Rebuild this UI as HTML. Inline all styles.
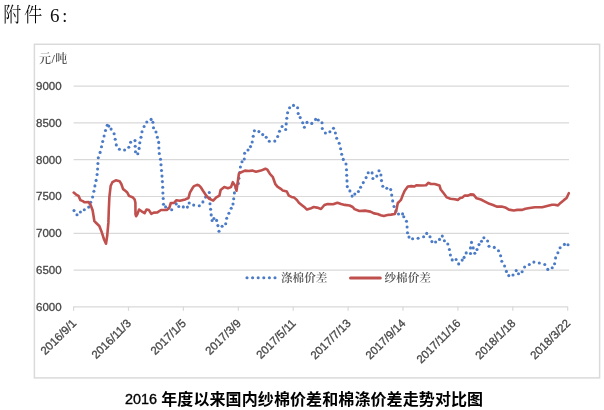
<!DOCTYPE html>
<html><head><meta charset="utf-8"><title>附件6</title>
<style>
html,body{margin:0;padding:0;background:#fff;}
body{width:604px;height:410px;overflow:hidden;position:relative;}
svg{position:absolute;left:0;top:0;will-change:transform;}
.lab{font-family:"Liberation Sans","Noto Sans CJK SC",sans-serif;font-size:11.5px;fill:#474747;stroke:#474747;stroke-width:0.3px;}
.cjk{font-family:"Liberation Serif","Noto Serif CJK SC",serif;font-size:11.6px;fill:#555;font-weight:600;}
</style></head>
<body>
<svg width="604" height="410" viewBox="0 0 604 410">
<g style="font-family:'Liberation Serif','Noto Serif CJK SC',serif;font-size:20px;font-weight:300;fill:#000">
<text transform="translate(3.2,21.8) scale(0.9,1.02)">附</text>
<text transform="translate(23.9,21.8) scale(0.92,1.02)">件</text>
<text x="50" y="21.5" style="font-size:19px;font-weight:400;fill:#111">6</text><text x="62.3" y="22.2" style="font-size:18px;font-weight:400;fill:#111">:</text>
</g>
<rect x="34.4" y="44.3" width="565.2" height="333.6" fill="#fff" stroke="#dadada" stroke-width="1.5"/>
<g stroke="#d9d9d9" stroke-width="1.2">
<line x1="73.6" y1="86.10" x2="569" y2="86.10"/>
<line x1="73.6" y1="122.90" x2="569" y2="122.90"/>
<line x1="73.6" y1="159.70" x2="569" y2="159.70"/>
<line x1="73.6" y1="196.50" x2="569" y2="196.50"/>
<line x1="73.6" y1="233.30" x2="569" y2="233.30"/>
<line x1="73.6" y1="270.10" x2="569" y2="270.10"/>

<line x1="73.6" y1="306.8" x2="567.8" y2="306.8"/>
<line x1="73.60" y1="306.6" x2="73.60" y2="310.8"/>
<line x1="128.50" y1="306.6" x2="128.50" y2="310.8"/>
<line x1="183.40" y1="306.6" x2="183.40" y2="310.8"/>
<line x1="238.30" y1="306.6" x2="238.30" y2="310.8"/>
<line x1="293.20" y1="306.6" x2="293.20" y2="310.8"/>
<line x1="348.10" y1="306.6" x2="348.10" y2="310.8"/>
<line x1="403.00" y1="306.6" x2="403.00" y2="310.8"/>
<line x1="457.90" y1="306.6" x2="457.90" y2="310.8"/>
<line x1="512.80" y1="306.6" x2="512.80" y2="310.8"/>
<line x1="567.70" y1="306.6" x2="567.70" y2="310.8"/>

</g>
<text class="cjk" x="39" y="63.2" style="font-size:12px;letter-spacing:0.4px">元/吨</text>
<g class="lab">
<text x="36" y="89.90">9000</text>
<text x="36" y="126.70">8500</text>
<text x="36" y="163.50">8000</text>
<text x="36" y="200.30">7500</text>
<text x="36" y="237.10">7000</text>
<text x="36" y="273.90">6500</text>
<text x="36" y="310.70">6000</text>

<text transform="translate(77.00,323.90) rotate(-45)" text-anchor="end">2016/9/1</text>
<text transform="translate(131.90,323.90) rotate(-45)" text-anchor="end">2016/11/3</text>
<text transform="translate(186.80,323.90) rotate(-45)" text-anchor="end">2017/1/5</text>
<text transform="translate(241.70,323.90) rotate(-45)" text-anchor="end">2017/3/9</text>
<text transform="translate(296.60,323.90) rotate(-45)" text-anchor="end">2017/5/11</text>
<text transform="translate(351.50,323.90) rotate(-45)" text-anchor="end">2017/7/13</text>
<text transform="translate(406.40,323.90) rotate(-45)" text-anchor="end">2017/9/14</text>
<text transform="translate(461.30,323.90) rotate(-45)" text-anchor="end">2017/11/16</text>
<text transform="translate(516.20,323.90) rotate(-45)" text-anchor="end">2018/1/18</text>
<text transform="translate(571.10,323.90) rotate(-45)" text-anchor="end">2018/3/22</text>

</g>
<g fill="#4b7bc7">
<circle cx="74.0" cy="210.6" r="1.55"/>
<circle cx="77.0" cy="214.8" r="1.55"/>
<circle cx="80.4" cy="212.0" r="1.55"/>
<circle cx="84.3" cy="209.8" r="1.55"/>
<circle cx="88.7" cy="207.1" r="1.55"/>
<circle cx="90.7" cy="202.2" r="1.55"/>
<circle cx="92.6" cy="197.0" r="1.55"/>
<circle cx="93.9" cy="191.3" r="1.55"/>
<circle cx="94.9" cy="185.9" r="1.55"/>
<circle cx="96.1" cy="180.4" r="1.55"/>
<circle cx="97.1" cy="174.5" r="1.55"/>
<circle cx="97.6" cy="169.0" r="1.55"/>
<circle cx="97.9" cy="163.5" r="1.55"/>
<circle cx="98.3" cy="157.8" r="1.55"/>
<circle cx="100.1" cy="152.4" r="1.55"/>
<circle cx="101.5" cy="146.8" r="1.55"/>
<circle cx="102.7" cy="141.5" r="1.55"/>
<circle cx="104.1" cy="136.0" r="1.55"/>
<circle cx="105.5" cy="130.5" r="1.55"/>
<circle cx="107.2" cy="125.2" r="1.55"/>
<circle cx="108.8" cy="126.1" r="1.55"/>
<circle cx="111.1" cy="129.1" r="1.55"/>
<circle cx="114.1" cy="133.8" r="1.55"/>
<circle cx="115.2" cy="139.3" r="1.55"/>
<circle cx="116.3" cy="144.9" r="1.55"/>
<circle cx="119.4" cy="149.3" r="1.55"/>
<circle cx="124.6" cy="150.0" r="1.55"/>
<circle cx="128.8" cy="147.2" r="1.55"/>
<circle cx="130.6" cy="142.2" r="1.55"/>
<circle cx="135.0" cy="140.6" r="1.55"/>
<circle cx="135.2" cy="146.3" r="1.55"/>
<circle cx="135.5" cy="151.8" r="1.55"/>
<circle cx="137.8" cy="153.7" r="1.55"/>
<circle cx="139.1" cy="148.4" r="1.55"/>
<circle cx="139.8" cy="142.7" r="1.55"/>
<circle cx="141.0" cy="137.2" r="1.55"/>
<circle cx="142.0" cy="131.7" r="1.55"/>
<circle cx="144.1" cy="126.5" r="1.55"/>
<circle cx="146.8" cy="122.0" r="1.55"/>
<circle cx="151.1" cy="119.4" r="1.55"/>
<circle cx="152.9" cy="122.2" r="1.55"/>
<circle cx="153.5" cy="127.8" r="1.55"/>
<circle cx="156.0" cy="132.0" r="1.55"/>
<circle cx="157.4" cy="137.2" r="1.55"/>
<circle cx="158.7" cy="142.4" r="1.55"/>
<circle cx="158.9" cy="148.0" r="1.55"/>
<circle cx="159.3" cy="153.5" r="1.55"/>
<circle cx="160.5" cy="159.2" r="1.55"/>
<circle cx="161.0" cy="164.8" r="1.55"/>
<circle cx="161.5" cy="170.5" r="1.55"/>
<circle cx="162.0" cy="176.1" r="1.55"/>
<circle cx="162.4" cy="181.6" r="1.55"/>
<circle cx="162.7" cy="187.3" r="1.55"/>
<circle cx="162.9" cy="193.0" r="1.55"/>
<circle cx="163.2" cy="198.5" r="1.55"/>
<circle cx="163.5" cy="204.2" r="1.55"/>
<circle cx="165.6" cy="206.9" r="1.55"/>
<circle cx="168.6" cy="208.3" r="1.55"/>
<circle cx="171.7" cy="209.7" r="1.55"/>
<circle cx="176.2" cy="203.9" r="1.55"/>
<circle cx="178.8" cy="206.5" r="1.55"/>
<circle cx="183.3" cy="206.9" r="1.55"/>
<circle cx="187.4" cy="207.1" r="1.55"/>
<circle cx="189.2" cy="203.0" r="1.55"/>
<circle cx="193.7" cy="205.1" r="1.55"/>
<circle cx="199.3" cy="205.7" r="1.55"/>
<circle cx="202.9" cy="201.9" r="1.55"/>
<circle cx="205.6" cy="197.1" r="1.55"/>
<circle cx="209.3" cy="192.5" r="1.55"/>
<circle cx="209.6" cy="198.0" r="1.55"/>
<circle cx="210.0" cy="203.7" r="1.55"/>
<circle cx="210.6" cy="209.2" r="1.55"/>
<circle cx="211.2" cy="214.9" r="1.55"/>
<circle cx="212.1" cy="220.5" r="1.55"/>
<circle cx="213.9" cy="218.5" r="1.55"/>
<circle cx="216.6" cy="220.4" r="1.55"/>
<circle cx="217.9" cy="225.6" r="1.55"/>
<circle cx="219.0" cy="231.2" r="1.55"/>
<circle cx="222.1" cy="226.3" r="1.55"/>
<circle cx="225.7" cy="223.8" r="1.55"/>
<circle cx="226.7" cy="218.3" r="1.55"/>
<circle cx="228.9" cy="213.2" r="1.55"/>
<circle cx="231.2" cy="208.3" r="1.55"/>
<circle cx="233.0" cy="204.0" r="1.55"/>
<circle cx="233.7" cy="198.7" r="1.55"/>
<circle cx="234.4" cy="192.9" r="1.55"/>
<circle cx="236.0" cy="188.0" r="1.55"/>
<circle cx="238.3" cy="183.4" r="1.55"/>
<circle cx="238.9" cy="178.3" r="1.55"/>
<circle cx="239.6" cy="172.6" r="1.55"/>
<circle cx="240.4" cy="167.0" r="1.55"/>
<circle cx="242.0" cy="161.7" r="1.55"/>
<circle cx="244.3" cy="159.0" r="1.55"/>
<circle cx="244.6" cy="153.2" r="1.55"/>
<circle cx="248.0" cy="150.0" r="1.55"/>
<circle cx="250.5" cy="146.6" r="1.55"/>
<circle cx="252.2" cy="142.0" r="1.55"/>
<circle cx="253.2" cy="136.2" r="1.55"/>
<circle cx="254.4" cy="130.7" r="1.55"/>
<circle cx="258.9" cy="131.6" r="1.55"/>
<circle cx="262.7" cy="134.6" r="1.55"/>
<circle cx="266.2" cy="137.3" r="1.55"/>
<circle cx="269.3" cy="141.3" r="1.55"/>
<circle cx="274.8" cy="141.1" r="1.55"/>
<circle cx="277.7" cy="136.5" r="1.55"/>
<circle cx="279.5" cy="131.2" r="1.55"/>
<circle cx="282.1" cy="126.5" r="1.55"/>
<circle cx="285.7" cy="129.5" r="1.55"/>
<circle cx="286.2" cy="123.9" r="1.55"/>
<circle cx="286.8" cy="118.2" r="1.55"/>
<circle cx="287.6" cy="112.7" r="1.55"/>
<circle cx="289.6" cy="107.7" r="1.55"/>
<circle cx="293.5" cy="105.4" r="1.55"/>
<circle cx="297.6" cy="107.7" r="1.55"/>
<circle cx="298.2" cy="113.5" r="1.55"/>
<circle cx="300.2" cy="117.6" r="1.55"/>
<circle cx="302.7" cy="122.8" r="1.55"/>
<circle cx="304.4" cy="127.3" r="1.55"/>
<circle cx="307.0" cy="122.4" r="1.55"/>
<circle cx="311.8" cy="123.4" r="1.55"/>
<circle cx="315.6" cy="119.4" r="1.55"/>
<circle cx="318.3" cy="120.0" r="1.55"/>
<circle cx="322.0" cy="122.8" r="1.55"/>
<circle cx="322.3" cy="128.5" r="1.55"/>
<circle cx="325.4" cy="133.0" r="1.55"/>
<circle cx="329.9" cy="131.8" r="1.55"/>
<circle cx="333.5" cy="128.2" r="1.55"/>
<circle cx="335.4" cy="133.0" r="1.55"/>
<circle cx="336.7" cy="138.3" r="1.55"/>
<circle cx="339.2" cy="143.2" r="1.55"/>
<circle cx="340.6" cy="148.8" r="1.55"/>
<circle cx="341.7" cy="154.3" r="1.55"/>
<circle cx="343.3" cy="159.4" r="1.55"/>
<circle cx="346.0" cy="164.0" r="1.55"/>
<circle cx="346.5" cy="169.8" r="1.55"/>
<circle cx="346.7" cy="175.2" r="1.55"/>
<circle cx="347.0" cy="180.9" r="1.55"/>
<circle cx="347.3" cy="186.6" r="1.55"/>
<circle cx="349.9" cy="190.9" r="1.55"/>
<circle cx="352.1" cy="196.1" r="1.55"/>
<circle cx="354.8" cy="194.1" r="1.55"/>
<circle cx="358.4" cy="191.5" r="1.55"/>
<circle cx="360.6" cy="187.2" r="1.55"/>
<circle cx="363.3" cy="182.6" r="1.55"/>
<circle cx="366.1" cy="177.6" r="1.55"/>
<circle cx="368.2" cy="172.8" r="1.55"/>
<circle cx="372.1" cy="172.9" r="1.55"/>
<circle cx="372.9" cy="178.5" r="1.55"/>
<circle cx="376.8" cy="176.1" r="1.55"/>
<circle cx="379.0" cy="170.7" r="1.55"/>
<circle cx="380.9" cy="175.0" r="1.55"/>
<circle cx="381.5" cy="180.6" r="1.55"/>
<circle cx="382.8" cy="186.2" r="1.55"/>
<circle cx="386.8" cy="188.2" r="1.55"/>
<circle cx="390.7" cy="189.6" r="1.55"/>
<circle cx="391.7" cy="195.1" r="1.55"/>
<circle cx="392.7" cy="200.9" r="1.55"/>
<circle cx="394.0" cy="206.5" r="1.55"/>
<circle cx="396.0" cy="211.0" r="1.55"/>
<circle cx="398.5" cy="214.0" r="1.55"/>
<circle cx="402.6" cy="213.9" r="1.55"/>
<circle cx="403.8" cy="216.7" r="1.55"/>
<circle cx="406.5" cy="221.2" r="1.55"/>
<circle cx="407.1" cy="227.0" r="1.55"/>
<circle cx="407.5" cy="232.7" r="1.55"/>
<circle cx="409.0" cy="237.1" r="1.55"/>
<circle cx="412.6" cy="238.8" r="1.55"/>
<circle cx="418.1" cy="238.3" r="1.55"/>
<circle cx="423.6" cy="236.7" r="1.55"/>
<circle cx="426.7" cy="233.4" r="1.55"/>
<circle cx="430.0" cy="236.7" r="1.55"/>
<circle cx="431.9" cy="241.6" r="1.55"/>
<circle cx="435.6" cy="242.0" r="1.55"/>
<circle cx="439.5" cy="239.4" r="1.55"/>
<circle cx="442.3" cy="236.1" r="1.55"/>
<circle cx="444.4" cy="240.8" r="1.55"/>
<circle cx="447.8" cy="244.0" r="1.55"/>
<circle cx="449.4" cy="249.5" r="1.55"/>
<circle cx="450.4" cy="255.0" r="1.55"/>
<circle cx="452.2" cy="259.9" r="1.55"/>
<circle cx="456.1" cy="259.5" r="1.55"/>
<circle cx="458.7" cy="263.9" r="1.55"/>
<circle cx="462.2" cy="260.1" r="1.55"/>
<circle cx="464.1" cy="257.4" r="1.55"/>
<circle cx="466.2" cy="252.9" r="1.55"/>
<circle cx="470.5" cy="253.5" r="1.55"/>
<circle cx="470.5" cy="247.9" r="1.55"/>
<circle cx="471.5" cy="242.4" r="1.55"/>
<circle cx="473.2" cy="247.9" r="1.55"/>
<circle cx="474.8" cy="253.2" r="1.55"/>
<circle cx="477.0" cy="249.5" r="1.55"/>
<circle cx="479.0" cy="244.6" r="1.55"/>
<circle cx="481.5" cy="241.3" r="1.55"/>
<circle cx="483.9" cy="237.7" r="1.55"/>
<circle cx="487.6" cy="241.0" r="1.55"/>
<circle cx="489.0" cy="246.2" r="1.55"/>
<circle cx="494.3" cy="247.4" r="1.55"/>
<circle cx="498.5" cy="250.7" r="1.55"/>
<circle cx="500.6" cy="255.8" r="1.55"/>
<circle cx="501.8" cy="261.3" r="1.55"/>
<circle cx="504.6" cy="266.0" r="1.55"/>
<circle cx="506.4" cy="271.4" r="1.55"/>
<circle cx="508.8" cy="275.6" r="1.55"/>
<circle cx="513.0" cy="275.0" r="1.55"/>
<circle cx="516.2" cy="270.6" r="1.55"/>
<circle cx="518.5" cy="273.8" r="1.55"/>
<circle cx="522.1" cy="271.8" r="1.55"/>
<circle cx="524.6" cy="267.0" r="1.55"/>
<circle cx="529.3" cy="264.5" r="1.55"/>
<circle cx="533.9" cy="262.1" r="1.55"/>
<circle cx="539.3" cy="263.0" r="1.55"/>
<circle cx="544.8" cy="264.5" r="1.55"/>
<circle cx="547.8" cy="269.4" r="1.55"/>
<circle cx="552.2" cy="267.7" r="1.55"/>
<circle cx="554.6" cy="263.7" r="1.55"/>
<circle cx="555.6" cy="257.9" r="1.55"/>
<circle cx="557.9" cy="252.8" r="1.55"/>
<circle cx="560.1" cy="247.7" r="1.55"/>
<circle cx="564.4" cy="244.4" r="1.55"/>
<circle cx="568.0" cy="244.8" r="1.55"/>
</g>
<polyline fill="none" stroke="#c0504d" stroke-width="2.6" stroke-linejoin="round" stroke-linecap="round" points="73.7,192.6 76.1,194.6 78.5,195.9 80.4,200.1 82.8,201.1 84.6,202.3 88.6,202.0 90.7,205.3 92.6,210.2 94.4,221.2 96.2,223 99.3,226 101.7,232.1 104.1,239.5 106,243.7 107.2,235.8 108.4,222.4 108.8,210 109.4,196.8 110.7,185.7 112.4,182.2 115.8,180.3 119.6,181.2 121.3,184 123.1,189.1 125.6,191 127.3,192.5 129,195.9 132.5,197.2 134.6,199.3 135.4,202.7 135.5,214.4 136.1,216.2 137.3,214.4 139.1,209.5 141.6,211.3 144.6,213.2 146.5,209.5 148.9,210.1 151.3,213.8 153.8,212.6 157.4,212.4 161.0,210.0 167.1,209.9 169.4,207.6 170.8,203 173.9,203 176.2,200.3 179.9,200.8 185.3,199.4 188.5,198 189.9,192.6 192.6,188 194,186.1 197.1,184.9 198.7,185.2 201.1,187.7 203.5,191.6 206.3,195.7 209,198.5 213.2,200.6 216.3,197.4 219.4,195.6 220.6,190.1 224.3,187.1 227.9,188.3 231,187.1 232.8,182.2 235.2,185.9 236.5,190.7 237.7,182.2 238.9,173.7 241.3,172.2 245,170.6 248.7,171 252.3,170.6 256,171.8 260.9,170.6 265.4,168.7 267.4,169.7 270.1,174.1 272.7,176.8 275.4,184.2 277.4,186.6 280.8,188.8 282.8,190.6 286.8,191.5 288.8,195.6 291.5,196.9 294.2,197.6 296.9,200 298.9,202.7 302.3,205.4 304.9,207.6 307,209.6 310.3,208.6 313.7,207 317,207.6 321,209 324.4,205 327.7,204 333.1,204.3 337.4,202.8 341.1,204 344.8,204.9 349.6,205.5 352.7,207 354.5,209.1 359.4,211 364.9,210.6 370.4,211.6 374,213.4 377.7,214 380.7,215.2 383.8,215.9 387.4,215 391.1,214.6 394.8,214 396.6,209.1 397.8,203 399.2,201.7 401,199.9 402.8,195 404.7,190.7 407.8,186.5 411.4,186.1 414.5,186.5 416.3,185.2 421.2,185.5 426,185.2 428.5,182.8 430.9,184 434.6,184 439.5,185.6 440.7,189.5 443.7,193.2 446.8,197.4 450.4,198.7 454.7,199.3 457.8,199.9 460.2,198 462.6,197.4 464.5,195.6 468,195.6 470.5,194.4 473.5,194.6 476.6,198.3 480.9,199.5 484.5,201.3 489.4,203.8 493,205 496.7,206.6 501.6,206.6 505.2,207.4 508.9,209.6 513.8,210.5 517.4,209.9 522.3,209.9 525.4,208.7 529.6,208 534.9,207.2 542.2,207.2 547.1,206 552,204.8 554.4,204.8 558,205.4 560.5,202.9 564.1,199.9 566.6,198 568.8,193.2"/>
<g fill="#4b7bc7">
<circle cx="247" cy="277.8" r="1.55"/><circle cx="252.6" cy="277.8" r="1.55"/><circle cx="258.2" cy="277.8" r="1.55"/><circle cx="263.8" cy="277.8" r="1.55"/><circle cx="269.4" cy="277.8" r="1.55"/><circle cx="275" cy="277.8" r="1.55"/>
</g>
<text class="cjk" x="281" y="282">涤棉价差</text>
<line x1="350.5" y1="278" x2="380.3" y2="278" stroke="#c0504d" stroke-width="3" stroke-linecap="round"/>
<text class="cjk" x="384.5" y="282">纱棉价差</text>
<text x="124.9" y="403.9" style="font-family:'Liberation Sans','Noto Sans CJK SC',sans-serif;font-size:14.4px;fill:#000;stroke:#000;stroke-width:0.35px">2016</text><text x="161.2" y="405" style="font-family:'Liberation Sans','Noto Sans CJK SC',sans-serif;font-size:16px;font-weight:bold;fill:#000;letter-spacing:0.1px">年度以来国内纱棉价差和棉涤价差走势对比图</text>
</svg>
</body></html>
